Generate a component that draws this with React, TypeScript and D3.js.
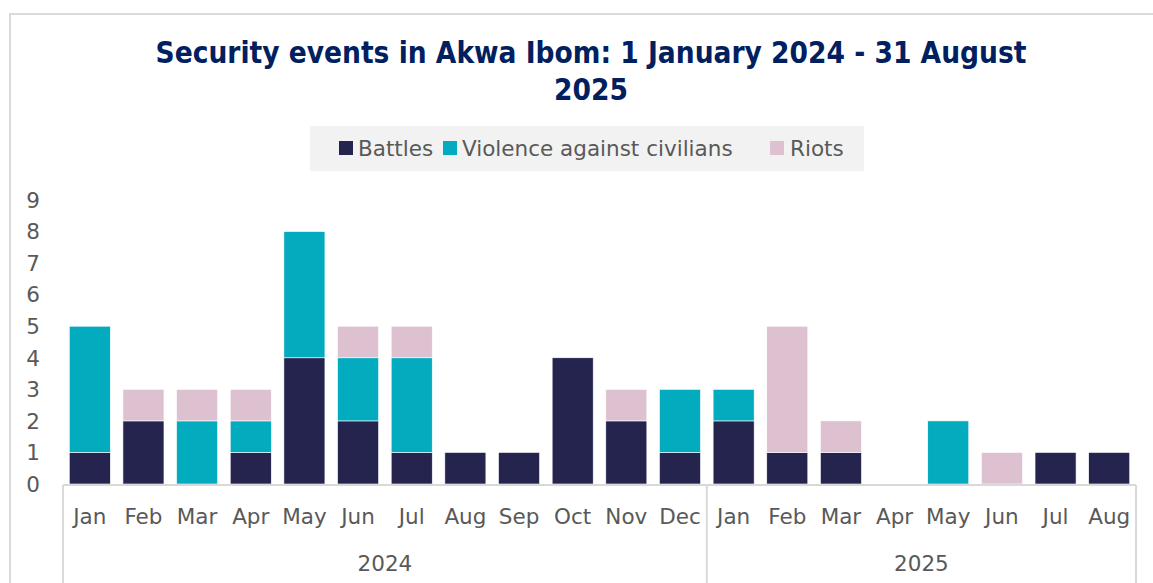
import React from "react";
import * as d3 from "d3";

const months = ["Jan","Feb","Mar","Apr","May","Jun","Jul","Aug","Sep","Oct","Nov","Dec","Jan","Feb","Mar","Apr","May","Jun","Jul","Aug"];
const years = ["2024","2025"];
const yearCounts = [12, 8];
const battles = [1,2,0,1,4,2,1,1,1,4,2,1, 2,1,1,0,0,0,1,1];
const violence = [4,0,2,1,4,2,3,0,0,0,0,2, 1,0,0,0,2,0,0,0];
const riots = [0,1,1,1,0,1,1,0,0,0,1,0, 0,4,1,0,0,1,0,0];
const seriesNames = ["Battles","Violence against civilians","Riots"];
const colors = ["#25244F","#03ABBF","#DDC1D0"];
const yTicks = [0,1,2,3,4,5,6,7,8,9];

const W = 1153, H = 583;
const FONT = "'DejaVu Sans', sans-serif";
const TITLE_FONT = "'DejaVu Sans Condensed', 'DejaVu Sans', sans-serif";

export default function App() {
  const left = 63, right = 1136, top = 200, bottom = 484;
  const idx = months.map((_, i) => i);
  const x = d3.scaleBand<number>().domain(idx).range([left, right]).paddingInner(0.235).paddingOuter(0.117);
  const step = (right - left) / months.length;
  const y = d3.scaleLinear().domain([0, 9]).range([bottom, top]);
  const rows = idx.map(i => ({ i, b: battles[i], v: violence[i], r: riots[i] }));
  const stack = d3.stack<any>().keys(["b","v","r"])(rows);

  let acc = 0;
  const yearPos = yearCounts.map(c => { const s = acc; acc += c; return { s, e: acc }; });

  const legendItems = [
    { x: 339, tx: 358 },
    { x: 443, tx: 462 },
    { x: 770, tx: 790 },
  ];

  return (
    <svg width={W} height={H} style={{ position: "absolute", left: 0, top: 0, background: "#fff" }} fontFamily={FONT}>
      <rect x={10} y={14} width={1160} height={600} fill="#fff" stroke="#d9d9d9" strokeWidth={2} />
      <text x={591} y={63} textAnchor="middle" fontSize={29.5} fontWeight="bold" fill="#002060" fontFamily={TITLE_FONT}>Security events in Akwa Ibom: 1 January 2024 - 31 August</text>
      <text x={591} y={100} textAnchor="middle" fontSize={29.5} fontWeight="bold" fill="#002060" fontFamily={TITLE_FONT}>2025</text>

      <rect x={310} y={126} width={554} height={45} fill="#f2f2f2" />
      {seriesNames.map((n, k) => (
        <g key={n}>
          <rect x={legendItems[k].x} y={141} width={14} height={14} fill={colors[k]} />
          <text x={legendItems[k].tx} y={156} fontSize={21.5} fill="#595959">{n}</text>
        </g>
      ))}

      {yTicks.map(t => (
        <text key={t} x={33} y={y(t)} dy="0.36em" textAnchor="middle" fontSize={21.5} fill="#595959">{t}</text>
      ))}

      {stack.map((s, k) => (
        <g key={k} fill={colors[k]}>
          {s.map((d: any, i: number) => d[1] > d[0] ? (
            <rect key={i} x={x(i)} y={y(d[1])} width={x.bandwidth()} height={y(d[0]) - y(d[1])} stroke="#fff" strokeWidth={0.6} />
          ) : null)}
        </g>
      ))}

      <line x1={left} x2={right} y1={485} y2={485} stroke="#d9d9d9" strokeWidth={2} />
      {[0, 12, 20].map(b => (
        <line key={b} x1={left + b * step} x2={left + b * step} y1={485} y2={583} stroke="#d9d9d9" strokeWidth={2} />
      ))}
      {months.map((m, i) => (
        <text key={i} x={x(i)! + x.bandwidth() / 2} y={524} textAnchor="middle" fontSize={21.5} fill="#595959">{m}</text>
      ))}
      {years.map((yr, k) => (
        <text key={yr} x={left + (yearPos[k].s + yearPos[k].e) / 2 * step} y={571} textAnchor="middle" fontSize={21.5} fill="#595959">{yr}</text>
      ))}
    </svg>
  );
}
